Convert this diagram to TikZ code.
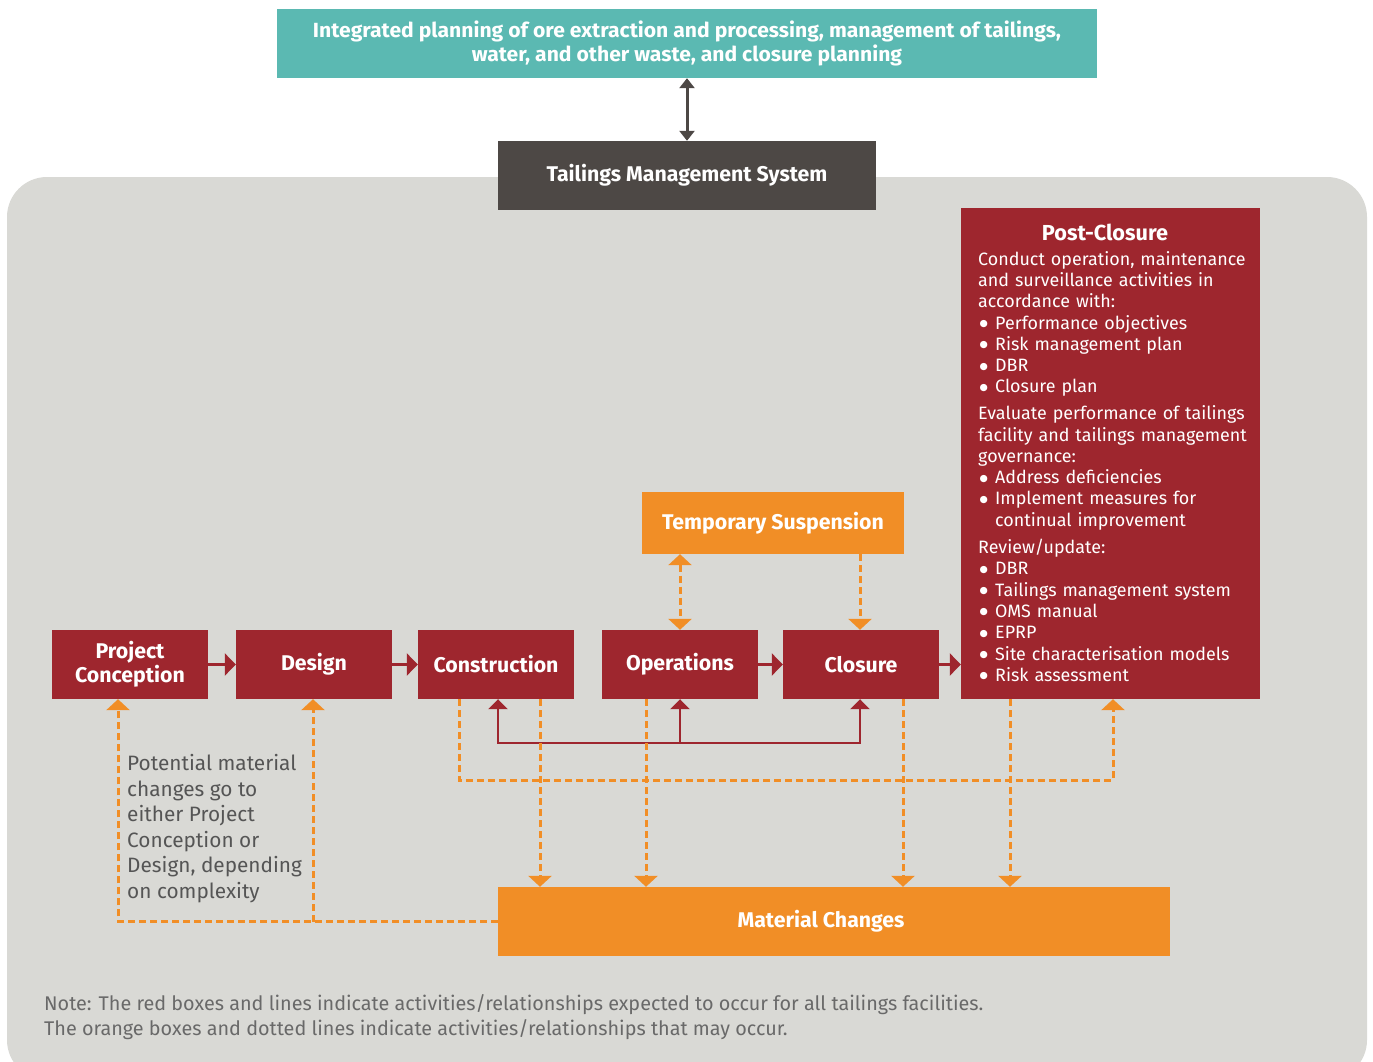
\documentclass[tikz,border=0pt]{standalone}
\usepackage{fontspec}
\setmainfont{Fira Sans}
\newfontfamily\bulfont{DejaVu Sans}
\usetikzlibrary{arrows.meta}
\definecolor{bggray}{RGB}{217,217,213}
\definecolor{tealbox}{RGB}{91,185,178}
\definecolor{darkbox}{RGB}{77,72,69}
\definecolor{redbox}{RGB}{158,38,46}
\definecolor{orangebox}{RGB}{241,142,38}
\definecolor{txtgray}{RGB}{85,85,85}
\definecolor{notegray}{RGB}{105,105,105}
\newcommand\pbul{\makebox[17pt][l]{\hspace{1.5pt}\raisebox{2.6pt}{\bulfont\fontsize{9.5}{9}\selectfont ●}}}
\tikzset{
  rtip/.tip={Triangle[width=22pt,length=11pt]},
  utip/.tip={Triangle[width=19pt,length=10pt]},
  otip/.tip={Triangle[width=23pt,length=11pt]},
  dtip/.tip={Triangle[width=15pt,length=10pt]},
}
\begin{document}
\begin{tikzpicture}[x=1pt,y=-1pt,
  boxbase/.style={inner sep=0pt, text=white, font=\fontsize{21.3}{24}\selectfont\bfseries, align=center},
  redstep/.style={boxbase, fill=redbox, minimum width=156pt, minimum height=69pt},
  redln/.style={draw=redbox, line width=2.4pt},
  odash/.style={draw=orangebox, line width=3pt, dash pattern=on 7pt off 4pt},
]
\useasboundingbox (0,0) rectangle (1373,1062);
\fill[bggray, rounded corners=40pt] (7,177) rectangle (1367,1080);

% top boxes
\node[boxbase, fill=tealbox, minimum width=820pt, minimum height=69pt,
      font=\fontsize{20.5}{24}\selectfont\bfseries] (teal) at (687,43.5)
  {\scalebox{1.03}[1]{Integrated planning of ore extraction and processing, management of tailings,}\\
   \scalebox{1.03}[1]{water, and other waste, and closure planning}};
\node[boxbase, fill=darkbox, minimum width=378pt, minimum height=69pt] (tms) at (687,175.5)
  {Tailings Management System};
\draw[draw=darkbox, line width=3pt, dtip-dtip] (teal.south) -- (tms.north);

% post closure
\node[boxbase, fill=redbox, minimum width=299pt, minimum height=491pt] (post) at (1110.5,453.5) {};
\node[boxbase, anchor=center, font=\fontsize{21.7}{24}\selectfont\bfseries] (posttitle) at (1105,232) {Post-Closure};
\node[anchor=north west, inner sep=0pt, text=white, align=left, text width=290pt,
      font=\fontsize{17.9}{21.3}\selectfont] (posttext) at (978,251)
  {Conduct operation, maintenance\\
   and surveillance activities in\\
   accordance with:\\
   \pbul Performance objectives\\
   \pbul Risk management plan\\
   \pbul DBR\\
   \pbul Closure plan\\[5.5pt]
   Evaluate performance of tailings\\
   facility and tailings management\\
   governance:\\
   \pbul Address deficiencies\\
   \pbul Implement measures for\\
   \hspace*{17pt}continual improvement\\[6pt]
   Review/update:\\
   \pbul DBR\\
   \pbul Tailings management system\\
   \pbul OMS manual\\
   \pbul EPRP\\
   \pbul Site characterisation models\\
   \pbul Risk assessment};

% main row
\node[redstep] (pc) at (130,664.5) {Project\\Conception};
\node[redstep] (design) at (314,664.5) {Design};
\node[redstep] (constr) at (496,664.5) {Construction};
\node[redstep] (oper) at (680,664.5) {Operations};
\node[redstep] (closure) at (861,664.5) {Closure};
\node[boxbase, fill=orangebox, minimum width=262pt, minimum height=62pt] (ts) at (773,523) {Temporary Suspension};
\node[boxbase, fill=orangebox, minimum width=672pt, minimum height=69pt] (mc) at (834,921.5) {\hspace*{-26pt}Material Changes};

\draw[redln, -rtip] (pc.east) -- (design.west);
\draw[redln, -rtip] (design.east) -- (constr.west);
\draw[redln, -rtip] (oper.east) -- (closure.west);
\draw[redln, -rtip] (closure.east) -- (closure.east -| post.west);

% red feedback tree
\coordinate (rbase) at (0,743);
\draw[redln, utip-utip] ([xshift=2pt]constr.south) -- ([xshift=2pt]constr.south |- rbase)
  -- ([xshift=-1pt]closure.south |- rbase) -- ([xshift=-1pt]closure.south);
\draw[redln, -utip] (oper.south |- rbase) -- (oper.south);

% orange dashed connectors
\coordinate (ylow) at (0,780);
\draw[odash, -otip] ([xshift=-37pt]constr.south) -- ([xshift=-37pt]constr.south |- ylow)
  -- ([xshift=2.5pt]post.south |- ylow) -- ([xshift=2.5pt]post.south);
\draw[odash, -otip] ([xshift=44pt]constr.south) -- ([xshift=44pt]constr.south |- mc.north);
\draw[odash, -otip] ([xshift=-34pt]oper.south) -- ([xshift=-34pt]oper.south |- mc.north);
\draw[odash, -otip] ([xshift=42pt]closure.south) -- ([xshift=42pt]closure.south |- mc.north);
\draw[odash, -otip] ([xshift=-100.5pt]post.south) -- ([xshift=-100.5pt]post.south |- mc.north);
\draw[odash, -otip] (mc.west) -- ([xshift=-12pt]pc.south |- mc.west) -- ([xshift=-12pt]pc.south);
\draw[odash, -otip] ([xshift=-1pt]design.south |- mc.west) -- ([xshift=-1pt]design.south);
\draw[odash, otip-otip] (oper.north |- ts.south) -- (oper.north);
\draw[odash, -otip] ([xshift=-1pt]closure.north |- ts.south) -- ([xshift=-1pt]closure.north);

% texts
\node[anchor=north west, inner sep=0pt, text=txtgray, align=left,
      font=\fontsize{20.8}{25.6}\selectfont] (potential) at (127,754)
  {Potential material\\changes go to\\either Project\\Conception or\\Design, depending\\on complexity};
\node[anchor=north west, inner sep=0pt, text=notegray, align=left,
      font=\fontsize{19.8}{25}\selectfont] (note) at (44,994)
  {Note: The red boxes and lines indicate activities/relationships expected to occur for all tailings facilities.\\
   The orange boxes and dotted lines indicate activities/relationships that may occur.};
\end{tikzpicture}
\end{document}
